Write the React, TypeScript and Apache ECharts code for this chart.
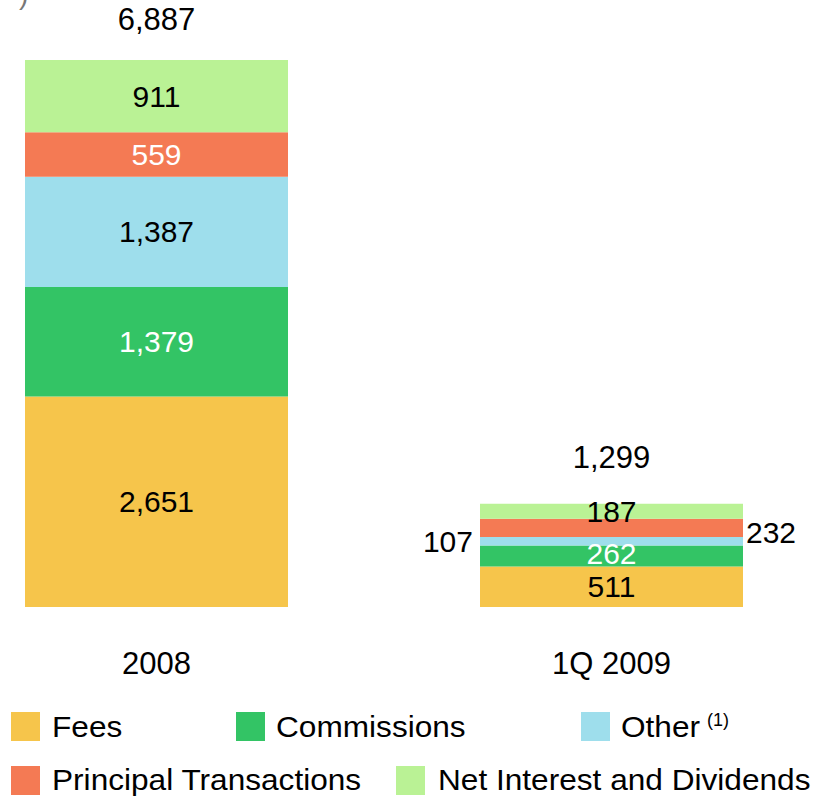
import React, { useEffect, useRef } from "react";
import * as echarts from "echarts";

const categories = ["2008", "1Q 2009"];
const seriesNames = ["Fees", "Commissions", "Other", "Principal Transactions", "Net Interest and Dividends"];
const fees = [2651, 511];
const commissions = [1379, 262];
const other = [1387, 107];
const principal = [559, 232];
const netInterest = [911, 187];
const totals = [6887, 1299];
const otherFootnote = "(1)";

const colors = ["#F6C54B", "#33C465", "#9EDEEC", "#F47A54", "#BAF295"];
const labelColors2008 = ["#000", "#fff", "#000", "#fff", "#000"];
const labelColors2009 = ["#000", "#fff", "#fff", "#000", "#000"];

const FONT = "'Liberation Sans', Arial, sans-serif";
const fmt = (v: number) => v.toLocaleString("en-US");

export default function App() {
  const ref = useRef<HTMLDivElement>(null);
  useEffect(() => {
    if (!ref.current) return;
    const chart = echarts.init(ref.current, undefined, { renderer: "svg" });
    const values = [fees, commissions, other, principal, netInterest];
    const label2009: any[] = [
      { position: "inside" },
      { position: "inside", offset: [0, -3] },
      { position: "left", distance: 7 },
      { position: "right", distance: 3, offset: [0, 5] },
      { position: "inside" },
    ];
    const barSeries = values.map((vals, si) => ({
      name: seriesNames[si],
      type: "bar",
      stack: "total",
      barWidth: 263,
      clip: false,
      itemStyle: { color: colors[si] },
      label: {
        show: true,
        fontSize: 30,
        fontFamily: FONT,
        formatter: (p: any) => fmt(p.value),
      },
      data: vals.map((v, ci) => ({
        value: v,
        label:
          ci === 0
            ? { position: "inside", color: labelColors2008[si] }
            : {
                ...label2009[si],
                color: label2009[si].position === "inside" ? labelColors2009[si] : "#000",
              },
      })),
    }));
    const totalDistances = [25, 31];
    const totalSeries = {
      name: "Total",
      type: "scatter",
      symbolSize: 0,
      silent: true,
      clip: false,
      itemStyle: { opacity: 1 },
      data: totals.map((t, i) => ({
        value: [categories[i], t],
        label: { distance: totalDistances[i] },
      })),
      label: {
        show: true,
        position: "top",
        fontSize: 31,
        fontFamily: FONT,
        color: "#000",
        opacity: 1,
        formatter: (p: any) => fmt(p.value[1]),
      },
    };
    // legend layout: icon position, text start and text centre line
    const legendPos = [
      { left: 11, top: 712, tx: 52, ty: 726.5 },
      { left: 236, top: 712, tx: 276, ty: 726.5 },
      { left: 581, top: 712, tx: 621, ty: 726.5 },
      { left: 11, top: 766, tx: 52, ty: 779.5 },
      { left: 396, top: 766, tx: 438, ty: 779.5 },
    ];
    const legends = seriesNames.map((n, i) => ({
      data: [n],
      left: legendPos[i].left,
      top: legendPos[i].top,
      padding: 0,
      icon: "rect",
      itemWidth: 29,
      itemHeight: 29,
      itemGap: 0,
      selectedMode: false,
      formatter: () => "",
      textStyle: { fontSize: 1, padding: 0 },
    }));
    const legendTexts: any[] = seriesNames.map((n, i) => ({
      type: "text",
      x: legendPos[i].tx,
      y: legendPos[i].ty,
      scaleX: 1.09,
      style: {
        text: n,
        fontSize: 29,
        fontFamily: FONT,
        fill: "#000",
        textAlign: "left",
        textVerticalAlign: "middle",
      },
    }));
    legendTexts.push({
      type: "text",
      x: 707,
      y: 719.5,
      style: {
        text: otherFootnote,
        fontSize: 18,
        fontFamily: FONT,
        fill: "#000",
        textAlign: "left",
        textVerticalAlign: "middle",
      },
    });
    chart.setOption({
      animation: false,
      backgroundColor: "#fff",
      grid: { left: 156.5, right: 205.5, top: 60, bottom: 189, containLabel: false },
      xAxis: {
        type: "category",
        data: categories,
        boundaryGap: false,
        axisLine: { show: false },
        axisTick: { show: false },
        axisLabel: { fontSize: 31, fontFamily: FONT, color: "#000", margin: 41 },
      },
      yAxis: { type: "value", min: 0, max: 6887, show: false, splitLine: { show: false } },
      legend: legends,
      graphic: [
        {
          type: "text",
          x: 19,
          y: -20,
          style: { text: ")", fontSize: 28, fontFamily: FONT, fill: "#777" },
        },
        ...legendTexts,
      ],
      series: [...barSeries, totalSeries],
    });
    return () => chart.dispose();
  }, []);
  return <div ref={ref} style={{ width: 817, height: 796, position: "absolute", left: 0, top: 0 }} />;
}
